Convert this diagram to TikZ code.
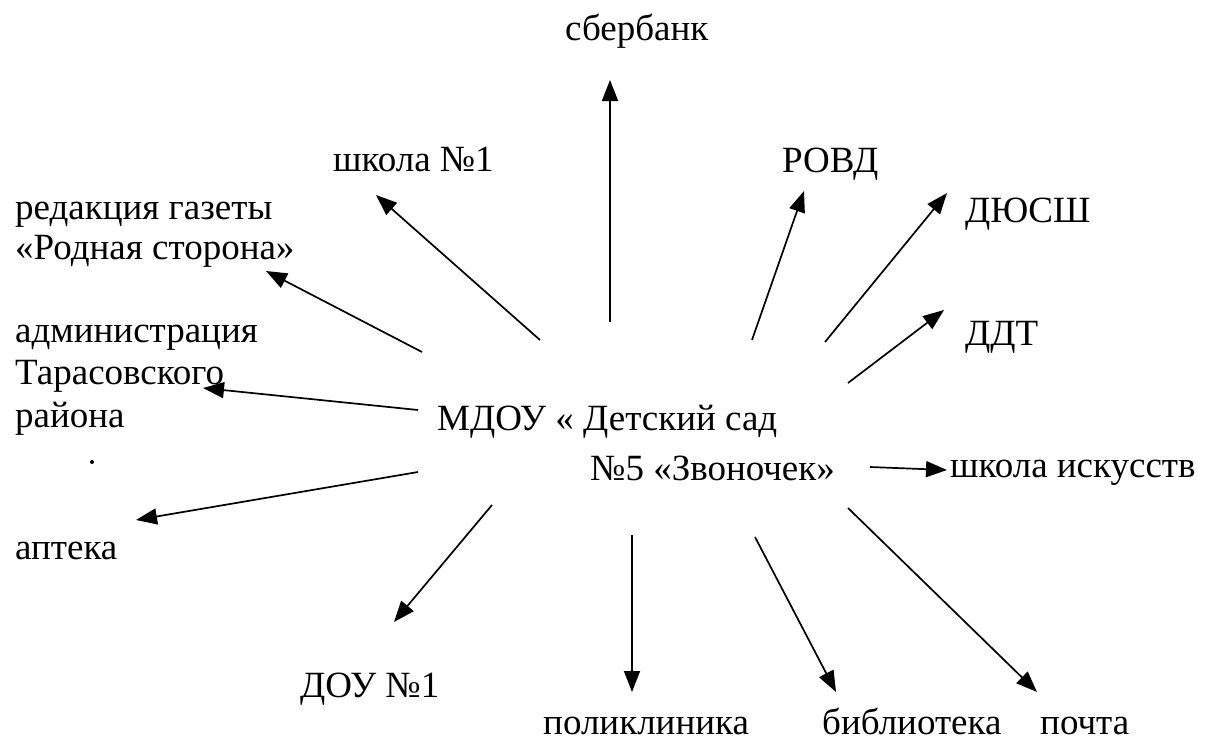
\documentclass[tikz,border=0pt]{standalone}
\usepackage{fontspec}
\setmainfont{Liberation Serif}
\usetikzlibrary{arrows.meta}
\begin{document}
\begin{tikzpicture}[x=1pt,y=-1pt,
  lbl/.style={anchor=base west,inner sep=0pt,font=\fontsize{37}{42}\selectfont},
  arr/.style={line width=1.7pt,-{Triangle[length=21pt,width=16pt]}}]
\useasboundingbox (0,0) rectangle (1211,744);
% labels
\node[lbl] (sber) at (565,40) {сбербанк};
\node[lbl] (shk1) at (333,171) {школа №1};
\node[lbl] (red1) at (15,219) {редакция газеты};
\node[lbl] (red2) at (15,259) {«Родная сторона»};
\node[lbl] (adm1) at (15,342) {администрация};
\node[lbl] (adm2) at (15,384) {Тарасовского};
\node[lbl] (adm3) at (15,427) {района};
\node[lbl] (m1) at (437,430) {МДОУ « Детский сад};
\node[lbl] (m2) at (590,480) {№5 «Звоночек»};
\node[lbl] (ski) at (950,477) {школа искусств};
\node[lbl] (apt) at (15,559) {аптека};
\node[lbl] (dou) at (300,697) {ДОУ №1};
\node[lbl] (pol) at (543,734) {поликлиника};
\node[lbl] (bib) at (822,734) {библиотека};
\node[lbl] (poc) at (1040,734) {почта};
\node[lbl] (rovd) at (782,172) {РОВД};
\node[lbl] (dus) at (965,222) {ДЮСШ};
\node[lbl] (ddt) at (965,345) {ДДТ};
\fill (92,462) circle (2pt);
% arrow ends
\coordinate (s1) at (610,322); \coordinate (e1) at (610,80);
\coordinate (s2) at (540,340); \coordinate (e2) at (376,195);
\coordinate (s3) at (422,352); \coordinate (e3) at (266,271);
\coordinate (s4) at (418,410); \coordinate (e4) at (203,388);
\coordinate (s5) at (418,472); \coordinate (e5) at (136,520);
\coordinate (s6) at (492,505); \coordinate (e6) at (394,622);
\coordinate (s7) at (632,535); \coordinate (e7) at (632,692);
\coordinate (s8) at (755,537); \coordinate (e8) at (836,692);
\coordinate (s9) at (848,508); \coordinate (e9) at (1037,692);
\coordinate (s10) at (870,467); \coordinate (e10) at (947,470);
\coordinate (s11) at (848,383); \coordinate (e11) at (944,310);
\coordinate (s12) at (825,342); \coordinate (e12) at (947,193);
\coordinate (s13) at (752,340); \coordinate (e13) at (804,191);
\foreach \i in {1,...,13} \draw[arr] (s\i) -- (e\i);
\end{tikzpicture}
\end{document}
